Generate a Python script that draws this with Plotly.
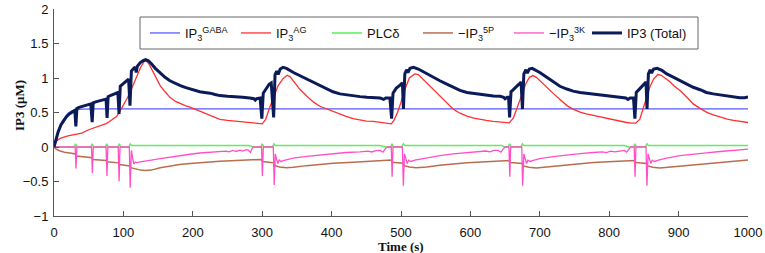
import plotly.graph_objects as go

# ---------------- data ----------------
t_gaba = [0, 3, 6, 9, 12, 16, 20, 25, 30, 40, 60, 200, 400, 600, 800, 1000]
v_gaba = [0, 0.12, 0.24, 0.32, 0.38, 0.44, 0.485, 0.52, 0.54, 0.55, 0.553, 0.553, 0.553, 0.553, 0.553, 0.553]

t_ag = [0, 2, 5, 10, 20, 30, 40, 50, 56, 65, 75, 80, 85, 90, 95, 100, 105, 110, 115, 120, 125, 130, 133,
        137, 142, 147, 153, 160, 167, 175, 182, 190, 196, 203, 210, 218, 225, 232, 239, 250, 263, 275, 287,
        300, 305, 310, 316, 323, 330, 336, 340, 345, 354, 364, 374, 383, 393, 402, 412, 421, 431, 441, 450,
        460, 470, 480, 486, 490, 495, 500, 505, 512, 520, 525, 530, 537, 546, 556, 566, 575, 585, 595, 605,
        614, 623, 633, 645, 656, 662, 668, 675, 680, 685, 690, 695, 700, 710, 720, 730, 739, 748, 758, 767,
        777, 786, 796, 806, 816, 825, 832, 838, 844, 849, 854, 859, 864, 870, 875, 880, 887, 894, 902, 912,
        921, 931, 940, 950, 960, 970, 979, 990, 1000]
v_ag = [0, 0.06, 0.10, 0.13, 0.16, 0.18, 0.20, 0.25, 0.27, 0.30, 0.34, 0.37, 0.40, 0.44, 0.52, 0.60, 0.70,
        0.80, 0.93, 1.05, 1.16, 1.24, 1.25, 1.20, 1.10, 1.00, 0.89, 0.80, 0.72, 0.66, 0.625, 0.595, 0.577,
        0.55, 0.52, 0.49, 0.457, 0.43, 0.40, 0.385, 0.375, 0.36, 0.35, 0.335, 0.40, 0.55, 0.72, 0.89, 0.99,
        1.04, 1.02, 0.95, 0.84, 0.74, 0.65, 0.59, 0.55, 0.515, 0.48, 0.445, 0.41, 0.39, 0.375, 0.37, 0.36,
        0.345, 0.335, 0.39, 0.50, 0.65, 0.82, 1.00, 1.06, 1.05, 1.00, 0.94, 0.85, 0.745, 0.64, 0.55, 0.49,
        0.447, 0.42, 0.40, 0.385, 0.37, 0.36, 0.35, 0.42, 0.58, 0.76, 0.92, 1.01, 1.035, 1.01, 0.96, 0.86,
        0.77, 0.68, 0.60, 0.55, 0.505, 0.48, 0.457, 0.44, 0.418, 0.39, 0.37, 0.355, 0.345, 0.345, 0.40, 0.55,
        0.72, 0.88, 0.985, 1.05, 1.04, 1.00, 0.95, 0.88, 0.82, 0.72, 0.625, 0.56, 0.505, 0.465, 0.433, 0.405,
        0.385, 0.37, 0.355]

t_plc = [0, 29, 31, 33.5, 53, 55, 57.5, 74, 76, 78.5, 92, 94, 96.5, 108, 110, 112, 280, 288, 298, 300, 302,
         315, 317, 319, 470, 478, 485, 487, 489, 501, 503.5, 505.5, 645, 650, 654, 656.5, 658.5, 673, 675,
         677, 822, 828, 835, 837, 839, 852, 854.5, 856.5, 1000]
v_plc = [0, 0, 0.045, 0, 0, 0.045, 0, 0, 0.045, 0, 0, 0.045, 0, 0, 0.045, 0.02, 0.02, 0, 0, 0.045, 0.005,
         0.005, 0.045, 0.02, 0.02, 0, 0, 0.045, 0.005, 0.005, 0.045, 0.02, 0.02, 0, 0, 0.045, 0.005, 0.005,
         0.045, 0.02, 0.02, 0, 0, 0.045, 0.005, 0.005, 0.045, 0.02, 0.02]

t_5p = [0, 3, 8, 15, 25, 31, 32, 40, 50, 55, 56, 65, 75, 76.5, 85, 93, 94.5, 102, 109, 110.5, 118, 125, 132,
        140, 153, 167, 181, 196, 210, 225, 239, 255, 270, 285, 299, 300.5, 310, 317, 318.5, 325, 335, 345,
        364, 383, 402, 431, 460, 486, 487.5, 495, 503, 504.5, 512, 522, 537, 556, 575, 595, 623, 656, 657.5,
        666, 675, 676.5, 684, 695, 710, 729, 748, 777, 806, 837, 838.5, 847, 854, 855.5, 863, 873, 890, 910,
        930, 960, 1000]
v_5p = [0, -0.03, -0.055, -0.075, -0.09, -0.10, -0.13, -0.14, -0.15, -0.155, -0.18, -0.185, -0.195, -0.215,
        -0.225, -0.23, -0.255, -0.265, -0.275, -0.30, -0.32, -0.335, -0.34, -0.335, -0.30, -0.275, -0.255,
        -0.24, -0.226, -0.215, -0.207, -0.20, -0.19, -0.185, -0.183, -0.21, -0.22, -0.23, -0.27, -0.29,
        -0.30, -0.295, -0.27, -0.25, -0.235, -0.22, -0.205, -0.19, -0.22, -0.225, -0.235, -0.27, -0.29,
        -0.30, -0.29, -0.265, -0.245, -0.23, -0.215, -0.195, -0.225, -0.235, -0.24, -0.275, -0.295, -0.305,
        -0.29, -0.265, -0.245, -0.225, -0.21, -0.195, -0.225, -0.235, -0.24, -0.275, -0.295, -0.305, -0.29,
        -0.265, -0.245, -0.22, -0.19]

t_3k = [0, 30.5, 31.7, 33, 54, 55.3, 56.6, 75, 76.3, 77.6, 92.5, 93.8, 95.1, 108.5, 109.8, 111.5, 113, 115,
        117, 119, 122, 130, 140, 153, 167, 181, 196, 210, 225, 239, 248, 252, 258, 262, 268, 272, 277, 280,
        283, 285, 287, 299, 300.3, 301.6, 316, 317.3, 318.8, 320.5, 322.5, 324.5, 327, 333, 345, 364, 383,
        402, 421, 441, 452, 458, 464, 470, 474, 477, 480, 486, 487.2, 488.5, 502, 503.4, 505, 507, 509, 511,
        514, 520, 537, 556, 575, 595, 614, 622, 628, 634, 640, 644, 647, 650, 655.5, 656.8, 658, 674, 675.3,
        677, 679, 681, 683, 686, 692, 700, 719, 739, 758, 777, 790, 796, 802, 808, 815, 822, 825, 828, 831,
        836, 837.2, 838.5, 853, 854.4, 856, 858, 860, 862, 865, 871, 883, 902, 921, 940, 960, 979, 1000]
v_3k = [0, 0, -0.31, 0, 0, -0.375, 0, 0, -0.42, 0, 0, -0.495, 0, 0, -0.59, -0.05, -0.14, -0.25, -0.22,
        -0.23, -0.22, -0.21, -0.19, -0.168, -0.145, -0.12, -0.105, -0.087, -0.075, -0.063, -0.06, -0.07,
        -0.05, -0.065, -0.045, -0.06, -0.04, -0.045, -0.08, -0.03, 0, 0, -0.42, 0, 0, -0.55, -0.1, -0.17,
        -0.24, -0.19, -0.21, -0.19, -0.16, -0.135, -0.115, -0.095, -0.08, -0.07, -0.06, -0.072, -0.052,
        -0.05, -0.075, -0.03, 0, 0, -0.43, 0, 0, -0.56, -0.1, -0.17, -0.24, -0.19, -0.21, -0.19, -0.155,
        -0.125, -0.10, -0.08, -0.07, -0.058, -0.07, -0.05, -0.05, -0.075, -0.03, 0, 0, -0.43, 0, 0, -0.56,
        -0.1, -0.17, -0.24, -0.19, -0.21, -0.19, -0.17, -0.14, -0.115, -0.095, -0.08, -0.07, -0.08, -0.06,
        -0.07, -0.055, -0.05, -0.075, -0.03, 0, 0, -0.43, 0, 0, -0.56, -0.1, -0.17, -0.24, -0.19, -0.21,
        -0.19, -0.16, -0.125, -0.10, -0.085, -0.065, -0.05, -0.03]

t_tot = [0, 3, 6, 10, 14, 18, 22, 27, 30, 31.5, 33, 36, 42, 48, 53, 55, 56.5, 60, 66, 72, 75, 76.5, 78, 82,
         87, 92, 93.7, 95.5, 99, 103, 107.5, 109.5, 111.5, 115, 117, 118.5, 120, 124, 128, 132, 136, 140, 146,
         153, 160, 167, 175, 182, 190, 196, 203, 210, 217, 225, 232, 239, 250, 263, 272, 282, 288, 290, 292,
         297, 299.5, 301.5, 305, 310, 313, 316.5, 318.5, 321, 323, 326, 330, 335, 345, 354, 364, 374, 383,
         393, 402, 412, 421, 431, 441, 451, 460, 470, 475, 478, 484, 486.5, 488.5, 493, 499, 502, 503.5,
         505.5, 508, 510, 513, 518, 525, 537, 546, 556, 566, 575, 585, 595, 605, 614, 623, 633, 643, 648,
         650, 653, 655, 656.5, 658.5, 664, 670, 673, 675, 677, 680, 682, 685, 689, 700, 710, 720, 729, 739,
         748, 758, 767, 777, 786, 796, 806, 816, 824, 827, 830, 835, 837, 839, 845, 850, 853, 854.5, 856.5,
         859, 861, 864, 869, 876, 883, 893, 902, 912, 921, 931, 940, 950, 960, 970, 979, 988, 995, 1000]
v_tot = [0, 0.12, 0.22, 0.32, 0.39, 0.44, 0.48, 0.515, 0.53, 0.30, 0.56, 0.575, 0.59, 0.61, 0.625, 0.36,
         0.64, 0.655, 0.67, 0.69, 0.695, 0.42, 0.73, 0.75, 0.775, 0.79, 0.48, 0.88, 0.91, 0.95, 0.985, 0.60,
         1.10, 1.14, 1.16, 1.08, 1.17, 1.22, 1.25, 1.265, 1.25, 1.21, 1.14, 1.075, 1.01, 0.96, 0.92, 0.89,
         0.86, 0.84, 0.82, 0.80, 0.79, 0.78, 0.76, 0.745, 0.735, 0.73, 0.72, 0.71, 0.70, 0.68, 0.70, 0.71,
         0.41, 0.78, 0.84, 0.91, 0.93, 0.43, 1.05, 1.10, 1.05, 1.13, 1.155, 1.14, 1.08, 1.035, 0.99, 0.94,
         0.89, 0.84, 0.80, 0.77, 0.755, 0.745, 0.73, 0.72, 0.715, 0.71, 0.69, 0.71, 0.71, 0.41, 0.78, 0.85,
         0.90, 0.93, 0.55, 1.06, 1.12, 1.08, 1.14, 1.155, 1.13, 1.06, 1.01, 0.96, 0.91, 0.866, 0.82, 0.79,
         0.775, 0.76, 0.75, 0.74, 0.735, 0.72, 0.70, 0.72, 0.72, 0.43, 0.80, 0.86, 0.91, 0.94, 0.55, 1.06,
         1.12, 1.07, 1.13, 1.14, 1.08, 1.01, 0.94, 0.88, 0.84, 0.81, 0.79, 0.78, 0.77, 0.76, 0.745, 0.73,
         0.72, 0.71, 0.69, 0.71, 0.71, 0.41, 0.79, 0.86, 0.92, 0.94, 0.55, 1.06, 1.12, 1.07, 1.13, 1.14,
         1.11, 1.06, 1.01, 0.96, 0.91, 0.866, 0.83, 0.79, 0.77, 0.755, 0.74, 0.725, 0.715, 0.715, 0.725]

names = ["IP<sub>3</sub><sup>GABA</sup>", "IP<sub>3</sub><sup>AG</sup>", "PLCδ",
         "−IP<sub>3</sub><sup>5P</sup>", "−IP<sub>3</sub><sup>3K</sup>", "IP3 (Total)"]
x_ticks = list(range(0, 1001, 100))
y_ticks = [-1, -0.5, 0, 0.5, 1, 1.5, 2]

# ---------------- figure ----------------
series = [
    (t_gaba, v_gaba, "#5a5aff", 1.3, "legend"),
    (t_ag, v_ag, "#ff3030", 1.3, "legend"),
    (t_plc, v_plc, "#5cf05c", 1.5, "legend"),
    (t_5p, v_5p, "#b86e4e", 1.5, "legend"),
    (t_3k, v_3k, "#ff4fc8", 1.3, "legend"),
    (t_tot, v_tot, "#0b1a58", 3, "legend2"),
]

fig = go.Figure()
for (tx, vy, col, w, lg), nm in zip(series, names):
    fig.add_trace(go.Scatter(x=tx, y=vy, mode="lines", name=nm, legend=lg,
                             line=dict(color=col, width=w)))

axis_common = dict(showgrid=False, zeroline=False, showline=True, linecolor="#555",
                   linewidth=1, ticks="inside", ticklen=5, tickcolor="#555", mirror=False,
                   automargin=False,
                   tickfont=dict(family="Liberation Sans, Arial", size=13, color="#111"))

W, H = 765, 253
ML, MR, MT, MB = 54, 17, 9, 37
pw, ph = W - ML - MR, H - MT - MB

def px_x(p):
    return (p - ML) / pw

def px_y(p):
    return (H - MB - p) / ph

leg_font = dict(family="Liberation Sans, Arial", size=13, color="#111")

fig.update_layout(
    width=W, height=H,
    margin=dict(l=ML, r=MR, t=MT, b=MB),
    paper_bgcolor="white", plot_bgcolor="white",
    showlegend=True,
    legend=dict(orientation="h", x=px_x(145), y=px_y(33), xanchor="left", yanchor="middle",
                borderwidth=0, bgcolor="rgba(0,0,0,0)", font=leg_font,
                entrywidth=46, entrywidthmode="pixels"),
    legend2=dict(orientation="h", x=px_x(587), y=px_y(33), xanchor="left", yanchor="middle",
                 borderwidth=0, bgcolor="rgba(0,0,0,0)", font=leg_font),
    xaxis=dict(range=[0, 1000], tickvals=x_ticks, ticklabelstandoff=4, **axis_common),
    yaxis=dict(range=[-1, 2], tickvals=y_ticks, ticklabelstandoff=2, **axis_common),
    shapes=[dict(type="rect", xref="paper", yref="paper",
                 x0=px_x(140), x1=px_x(698), y0=px_y(49), y1=px_y(17),
                 line=dict(color="#666", width=1), fillcolor="white", layer="below")],
    annotations=[
        dict(text="<b>Time (s)</b>", xref="paper", yref="paper", x=0.5, y=px_y(246),
             xanchor="center", yanchor="middle", showarrow=False,
             font=dict(family="Liberation Serif, Times New Roman", size=13, color="#111")),
        dict(text="<b>IP3 (μM)</b>", xref="paper", yref="paper", x=px_x(19), y=px_y(106),
             xanchor="center", yanchor="middle", showarrow=False, textangle=-90,
             font=dict(family="Liberation Serif, Times New Roman", size=13, color="#111")),
    ],
)

fig.write_html("out.html", config={"displayModeBar": False},
               post_script="document.body.style.margin='0px';")
